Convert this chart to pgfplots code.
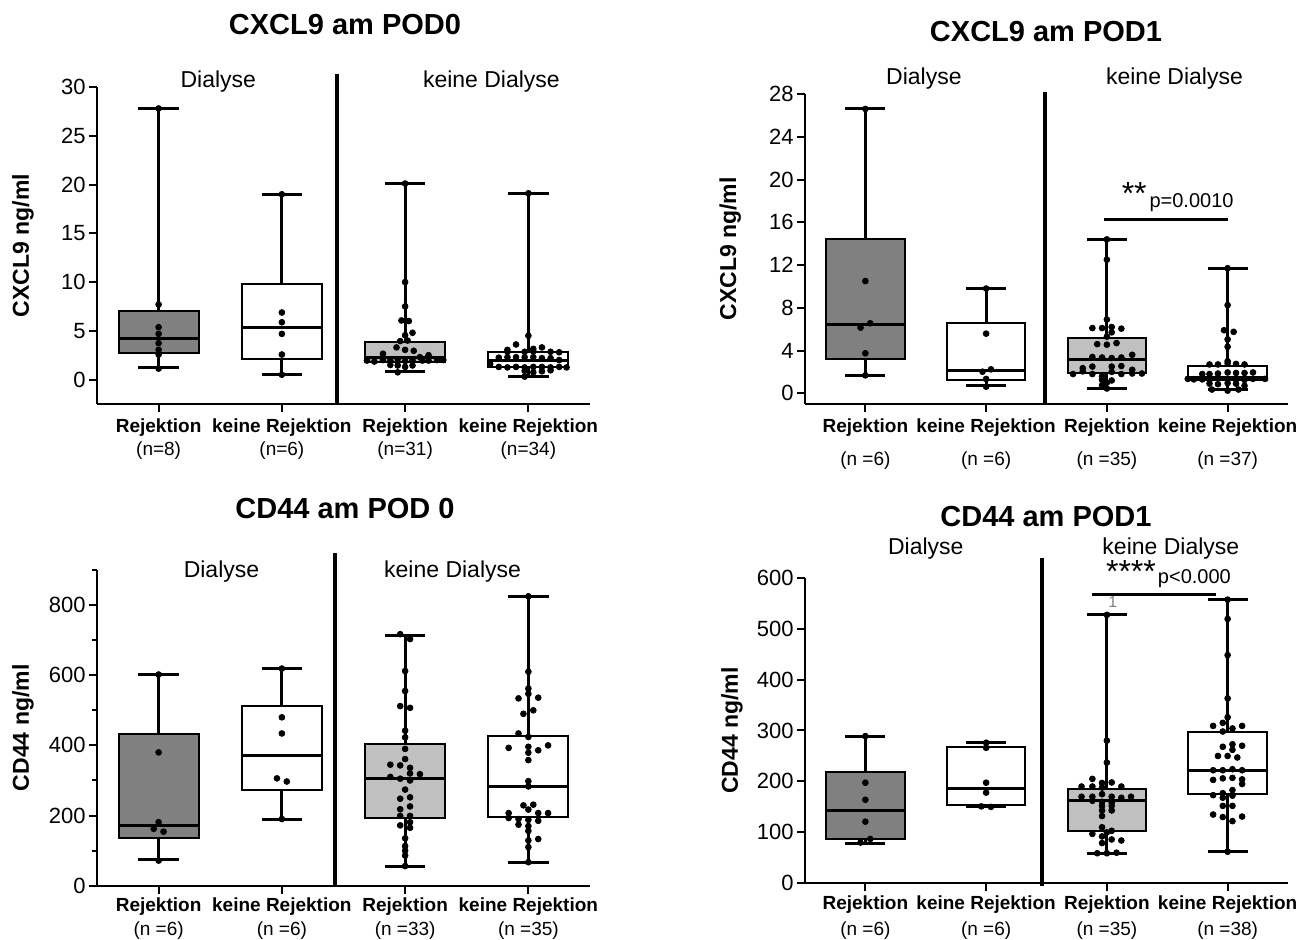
\documentclass[border=0pt]{standalone}
\usepackage{fontspec}
\setmainfont{Liberation Sans}
\usepackage{pgfplots}
\pgfplotsset{compat=1.18}
\usepackage{pgfplotstable}
\definecolor{boxdark}{RGB}{128,128,128}
\definecolor{boxlight}{RGB}{192,192,192}

\tikzset{grp/.style={font=\fontsize{11.5}{13}\selectfont}}
\pgfplotsset{
  panel/.style={
    scale only axis,
    axis lines*=left,
    axis line style={line width=1pt},
    xmin=-0.5, xmax=3.5,
    xtick={0,1,2,3},
    tick align=outside,
    major tick length=4pt,
    minor tick length=2.5pt,
    every tick/.style={black, line width=1pt},
    tick label style={font=\fontsize{11}{13}\selectfont},
    /pgf/number format/assume math mode=true,
    yticklabel style={inner sep=1.5pt},
    xticklabel style={align=center, font=\fontsize{9.5}{11.5}\selectfont},
    clip=false,
    title style={font=\bfseries\fontsize{14.5}{17}\selectfont, anchor=center, yshift=-6pt},
    ylabel style={font=\bfseries\fontsize{11.5}{14}\selectfont, anchor=center},
  },
  dots/.style={only marks, mark=*, mark size=1.45pt, black, mark options={draw=black, fill=black}},
}

% box: #1 position, #2 lower whisker, #3 lower quartile, #4 median, #5 upper quartile, #6 upper whisker, #7 fill
\newcommand{\bx}[7]{%
  \pgfmathsetmacro\bxL{#1-0.325}%
  \pgfmathsetmacro\bxR{#1+0.325}%
  \pgfmathsetmacro\cxL{#1-0.165}%
  \pgfmathsetmacro\cxR{#1+0.165}%
  \edef\bxcmd{%
    \noexpand\addplot[black, line width=1.5pt] coordinates {(#1,#5) (#1,#6)};%
    \noexpand\addplot[black, line width=1.5pt] coordinates {(\cxL,#6) (\cxR,#6)};%
    \noexpand\addplot[black, line width=1.5pt] coordinates {(#1,#2) (#1,#3)};%
    \noexpand\addplot[black, line width=1.5pt] coordinates {(\cxL,#2) (\cxR,#2)};%
    \noexpand\addplot[draw=black, line width=1pt, line cap=rect, fill=#7] coordinates {(\bxL,#3) (\bxR,#3) (\bxR,#5) (\bxL,#5) (\bxL,#3)};%
    \noexpand\addplot[black, line width=1.5pt] coordinates {(\bxL,#4) (\bxR,#4)};%
  }\bxcmd
}

% ---------- CXCL9 POD0 ----------
\pgfplotstableread{
o v
0 27.8
0 7.7
0 5.37
0 4.69
0 3.73
0 3.05
0 2.57
0 1.13
}\tlA
\pgfplotstableread{
o v
0 19.0
0 6.88
0 5.88
0 4.69
0 2.57
0 0.5
}\tlB
\pgfplotstableread{
o v
0 20.1
0 10.0
0 7.5
-0.03 6.06
0.03 6.0
0.06 4.8
0 4.55
-0.04 3.95
0.02 4.0
-0.07 3.3
0 3.05
0.07 2.95
-0.18 2.65
0.19 2.5
0.12 2.3
-0.31 1.95
-0.25 1.85
-0.18 2.0
-0.12 1.95
-0.06 2.1
0 1.9
0.06 2.0
0.14 1.95
0.19 1.95
0.26 2.0
0.31 2.0
-0.12 1.5
-0.06 1.45
0 1.3
0.06 1.45
-0.06 0.75
}\tlC
\pgfplotstableread{
o v
0 19.1
0 4.5
-0.1 3.6
-0.17 3.05
0.04 3.15
0.11 3.3
-0.17 2.85
-0.03 2.85
0.04 2.9
0.18 2.85
0.25 2.8
-0.24 2.25
-0.17 2.3
-0.1 2.3
-0.03 2.3
0.04 2.3
0.11 2.2
0.18 2.2
0.25 2.0
-0.31 1.6
-0.24 1.3
-0.17 1.25
-0.1 1.3
-0.03 1.25
0.04 1.3
0.11 1.3
0.18 1.25
0.25 1.3
0.31 1.25
-0.03 0.9
0.04 0.75
0.11 0.85
0.18 0.95
-0.03 0.3
}\tlD

% ---------- CXCL9 POD1 ----------
\pgfplotstableread{
o v
0 26.6
0 10.5
0.04 6.55
-0.04 6.14
0 3.74
0 1.68
}\trA
\pgfplotstableread{
o v
0 9.8
0 5.58
0.04 2.24
-0.03 2.02
0 1.34
0 0.62
}\trB
\pgfplotstableread{
o v
0 14.4
0 12.5
0 6.9
-0.12 6.1
-0.04 6.1
0.04 6.2
0.12 6.05
0.04 5.7
0 5.3
-0.08 4.6
0 4.55
0.08 4.7
-0.12 3.4
-0.04 3.35
0.04 3.3
0.12 3.35
0.21 3.6
-0.2 2.35
-0.12 2.5
0.04 2.5
0.12 2.55
0.21 2.2
-0.28 1.8
-0.2 2.05
-0.12 1.8
-0.04 1.6
0.04 2.0
0.12 1.8
0.21 1.85
0.29 1.85
-0.04 1.25
0.04 1.2
0 1.0
-0.04 0.75
0 0.45
}\trC
\pgfplotstableread{
o v
0 11.7
0 8.25
-0.03 5.9
0.05 5.75
0 5.05
0 4.35
0 3.0
-0.15 2.7
-0.08 2.7
0 2.8
0.07 2.75
0.14 2.7
-0.21 1.8
-0.15 1.8
-0.08 1.85
0 1.95
0.07 1.9
0.14 1.9
0.21 1.95
-0.33 1.35
-0.28 1.3
-0.21 1.3
-0.15 1.25
-0.08 1.4
0 1.35
0.07 1.3
0.14 1.25
0.21 1.35
0.31 1.35
-0.15 0.9
-0.08 0.85
0 0.95
0.07 0.9
0.14 0.7
-0.13 0.35
0 0.25
0.09 0.35
}\trD

% ---------- CD44 POD 0 ----------
\pgfplotstableread{
o v
0 602
0 380
0 181
-0.04 162
0.04 154
0 71.5
}\blA
\pgfplotstableread{
o v
0 619
0 480
0 434
-0.04 306
0.04 297
0 190
}\blB
\pgfplotstableread{
o v
-0.04 717
0.04 703
0 612
0 555
-0.04 512
0.04 507
0 442
0 423
0 390
0 361
-0.12 345
-0.04 343
0.04 336
-0.12 310
-0.04 305
0.04 320
0.12 318
0.04 300
0 274
-0.04 248
0.04 252
0.04 226
-0.04 218
-0.04 199
0.04 199
0.04 181
-0.04 172
0.04 165
0 135
0 113
0 100
0 86
0 56
}\blC
\pgfplotstableread{
o v
0 825
0 610
0 562
0 547
-0.08 534
0.08 536
-0.04 490
0.04 500
-0.08 434
0 424
-0.16 393
0.16 400
0.08 386
0 396
0 379
0 358
0 298
0 283
-0.04 229
0.04 231
0 217
-0.16 207
0.08 207
0.16 207
-0.16 193
-0.08 190
0 188
0.08 185
-0.08 174
0 170
0 156
0 129
0.08 133
0 110
0 67
}\blD

% ---------- CD44 POD1 ----------
\pgfplotstableread{
o v
0 289
0 197.5
0 164
0 121
0.04 87
-0.04 80
}\brA
\pgfplotstableread{
o v
0 276
0 266
0 197.5
0 178
-0.04 151
0.04 150
}\brB
\pgfplotstableread{
o v
0 527
0 280
0 237
-0.12 205
-0.21 190
-0.12 190
-0.04 197
0.04 198
0.12 190
-0.04 188
-0.21 170
-0.12 170
-0.04 175
0.04 170
0.12 168
0.2 170
-0.12 162
-0.04 160
0.04 158
-0.04 152
0.04 152
-0.04 143
0.04 143
-0.04 132
-0.04 110
0.04 103
0 100
-0.12 97
-0.04 92
0.04 86
-0.04 79
0.12 84
-0.08 59
0 59
0.08 60
}\brC
\pgfplotstableread{
o v
0 557
0 519
0 448
0 363
0 326
-0.12 309
-0.04 315
0.04 304
0.12 309
-0.04 298
-0.04 268
0.04 273
0.12 270
-0.08 250
0 250
0.04 262
0.08 247
-0.12 222
-0.04 222
0.04 224
0.12 222
-0.12 203
-0.04 206
0.04 207
0.12 204
0.12 195
0.04 183
-0.04 177
-0.12 173
-0.04 168
0.04 172
-0.04 152
0.04 152
-0.12 135
-0.04 130
0.04 122
0.12 131
0 62
}\brD

\begin{document}
\begin{tikzpicture}
\path[use as bounding box] (0,0) rectangle (656.5pt,470pt);

% ===== Top left =====
\begin{axis}[panel,
  at={(48.5pt,268pt)}, anchor=south west,
  width=246.5pt, height=158.5pt,
  ymin=-2.5, ymax=30, ytick={0,5,...,30},
  title={CXCL9 am POD0}, title style={at={(axis description cs:0.503,1.196)}},
  ylabel={CXCL9 ng/ml}, ylabel style={at={(axis description cs:-0.150,0.5)}},
  xticklabels={{\textbf{Rejektion}\\(n=8)},{\textbf{keine Rejektion}\\(n=6)},{\textbf{Rejektion}\\(n=31)},{\textbf{keine Rejektion}\\(n=34)}},
]
\bx{0}{1.2}{2.75}{4.2}{7.0}{27.8}{boxdark}
\bx{1}{0.5}{2.12}{5.3}{9.8}{19.0}{white}
\bx{2}{0.85}{1.82}{2.29}{3.83}{20.1}{boxlight}
\bx{3}{0.35}{1.3}{1.95}{2.8}{19.07}{white}
\addplot[dots] table[x expr=\thisrow{o}+0, y=v] {\tlA};
\addplot[dots] table[x expr=\thisrow{o}+1, y=v] {\tlB};
\addplot[dots] table[x expr=\thisrow{o}+2, y=v] {\tlC};
\addplot[dots] table[x expr=\thisrow{o}+3, y=v] {\tlD};
\addplot[black, line width=2pt] coordinates {(1.45,-2.5) (1.45,31.3)};
\node[grp] at (axis cs:0.484,30.6) {Dialyse};
\node[grp] at (axis cs:2.70,30.6) {keine Dialyse};
\end{axis}

% ===== Top right =====
\begin{axis}[panel,
  at={(402.5pt,268pt)}, anchor=south west,
  width=241.5pt, height=155pt,
  ymin=-1, ymax=28, ytick={0,4,...,28},
  title={CXCL9 am POD1}, title style={at={(axis description cs:0.499,1.2)}},
  ylabel={CXCL9 ng/ml}, ylabel style={at={(axis description cs:-0.155,0.5)}},
  xticklabels={{\textbf{Rejektion}\\[5pt](n =6)},{\textbf{keine Rejektion}\\[5pt](n =6)},{\textbf{Rejektion}\\[5pt](n =35)},{\textbf{keine Rejektion}\\[5pt](n =37)}},
]
\bx{0}{1.68}{3.21}{6.39}{14.46}{26.66}{boxdark}
\bx{1}{0.75}{1.22}{2.12}{6.55}{9.76}{white}
\bx{2}{0.47}{1.87}{3.12}{5.14}{14.43}{boxlight}
\bx{3}{0.31}{1.24}{1.52}{2.58}{11.69}{white}
\addplot[dots] table[x expr=\thisrow{o}+0, y=v] {\trA};
\addplot[dots] table[x expr=\thisrow{o}+1, y=v] {\trB};
\addplot[dots] table[x expr=\thisrow{o}+2, y=v] {\trC};
\addplot[dots] table[x expr=\thisrow{o}+3, y=v] {\trD};
\addplot[black, line width=2pt] coordinates {(1.49,-1.1) (1.49,28.2)};
\addplot[black, line width=1.5pt] coordinates {(1.976,16.3) (3.0,16.3)};
\node[grp] at (axis cs:0.485,29.4) {Dialyse};
\node[grp] at (axis cs:2.56,29.4) {keine Dialyse};
\node[anchor=north west, inner sep=0pt, font=\fontsize{16}{18}\selectfont] at (axis cs:2.12,19.8) {**};
\node[anchor=base west, inner sep=0pt, font=\fontsize{10}{12}\selectfont] at (axis cs:2.35,17.4) {p=0.0010};
\end{axis}

% ===== Bottom left =====
\begin{axis}[panel,
  at={(48.5pt,27.15pt)}, anchor=south west,
  width=246.5pt, height=157.85pt,
  ymin=0, ymax=900, ytick={0,200,...,800}, minor ytick={100,300,...,900},
  title={CD44 am POD 0}, title style={at={(axis description cs:0.503,1.196)}},
  ylabel={CD44 ng/ml}, ylabel style={at={(axis description cs:-0.150,0.5)}},
  xticklabel style={inner sep=2pt},
  xticklabels={{\textbf{Rejektion}\\[0.5pt](n =6)},{\textbf{keine Rejektion}\\[0.5pt](n =6)},{\textbf{Rejektion}\\[0.5pt](n =33)},{\textbf{keine Rejektion}\\[0.5pt](n =35)}},
]
\bx{0}{73.5}{137}{171}{433}{602}{boxdark}
\bx{1}{190}{272}{371}{511}{619}{white}
\bx{2}{56}{193}{305}{404}{714}{boxlight}
\bx{3}{67}{197}{282}{428}{825}{white}
\addplot[dots] table[x expr=\thisrow{o}+0, y=v] {\blA};
\addplot[dots] table[x expr=\thisrow{o}+1, y=v] {\blB};
\addplot[dots] table[x expr=\thisrow{o}+2, y=v] {\blC};
\addplot[dots] table[x expr=\thisrow{o}+3, y=v] {\blD};
\addplot[black, line width=2pt] coordinates {(1.43,-1) (1.43,948)};
\node[grp] at (axis cs:0.51,895) {Dialyse};
\node[grp] at (axis cs:2.385,895) {keine Dialyse};
\end{axis}

% ===== Bottom right =====
\begin{axis}[panel,
  at={(402.5pt,28.35pt)}, anchor=south west,
  width=241.5pt, height=152.8pt,
  ymin=0, ymax=600, ytick={0,100,...,600},
  title={CD44 am POD1}, title style={at={(axis description cs:0.499,1.199)}},
  ylabel={CD44 ng/ml}, ylabel style={at={(axis description cs:-0.151,0.5)}},
  xticklabel style={inner sep=2pt},
  xticklabels={{\textbf{Rejektion}\\[1.5pt](n =6)},{\textbf{keine Rejektion}\\[1.5pt](n =6)},{\textbf{Rejektion}\\[1.5pt](n =35)},{\textbf{keine Rejektion}\\[1.5pt](n =38)}},
]
\bx{0}{78.5}{87}{142}{218.5}{289}{boxdark}
\bx{1}{150}{154}{186.5}{267}{276}{white}
\bx{2}{59}{103}{163.5}{185}{527}{boxlight}
\bx{3}{62}{175}{221}{298}{557}{white}
\addplot[dots] table[x expr=\thisrow{o}+0, y=v] {\brA};
\addplot[dots] table[x expr=\thisrow{o}+1, y=v] {\brB};
\addplot[dots] table[x expr=\thisrow{o}+2, y=v] {\brC};
\addplot[dots] table[x expr=\thisrow{o}+3, y=v] {\brD};
\addplot[black, line width=2pt] coordinates {(1.46,-6) (1.46,638)};
\addplot[black, line width=1.5pt] coordinates {(1.88,567) (2.90,567)};
\node[grp] at (axis cs:0.50,657.6) {Dialyse};
\node[grp] at (axis cs:2.53,657.6) {keine Dialyse};
\node[anchor=north west, inner sep=0pt, font=\fontsize{16}{18}\selectfont] at (axis cs:1.99,634) {****};
\node[anchor=base west, inner sep=0pt, font=\fontsize{10}{12}\selectfont] at (axis cs:2.42,589.5) {p<0.000};
\node[gray, inner sep=0pt, font=\fontsize{8}{9}\selectfont] at (axis cs:2.05,553) {1};
\end{axis}
\end{tikzpicture}
\end{document}
